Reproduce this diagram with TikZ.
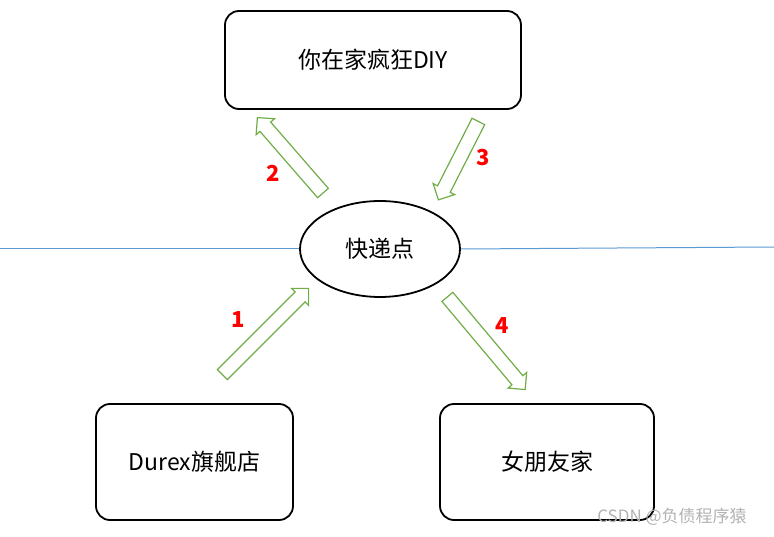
\documentclass[tikz,border=0pt]{standalone}
\usepackage{fontspec}
\setmainfont{Noto Sans CJK SC}
\usetikzlibrary{shapes.geometric,shapes.arrows}
\definecolor{bl}{HTML}{5B9BD5}
\definecolor{gr}{HTML}{70AD47}
\begin{document}
\begin{tikzpicture}[x=1pt,y=-1pt,
  box/.style={draw,line width=1.8pt,rounded corners=14pt,font=\fontsize{23}{26}\selectfont},
  harrow/.style={single arrow,draw=gr,line width=1.2pt,inner xsep=0pt,inner ysep=6.5pt,single arrow head extend=5pt,single arrow head indent=0pt,anchor=center},
  lbl/.style={text=red,font=\bfseries\fontsize{22}{24}\selectfont}]
\useasboundingbox (0,0) rectangle (774,537);
\node[box,minimum width=296pt,minimum height=98pt] (top) at (373,60) {你在家疯狂DIY};
\node[draw,line width=1.8pt,ellipse,minimum width=160pt,minimum height=96pt,font=\fontsize{23}{26}\selectfont] (mid) at (380,249) {快递点};
\node[box,minimum width=197pt,minimum height=116pt] (bl) at (194.5,462) {Durex旗舰店};
\node[box,minimum width=214pt,minimum height=116pt] (br) at (547,462) {女朋友家};
\coordinate (L) at (0,249); \coordinate (R) at (774,247);
\draw[bl,line width=1pt] (L) -- (mid.west);
\draw[bl,line width=1pt] (mid.east) -- (R);
\node[harrow,minimum height=122pt,rotate=45] (a1) at (263,334) {};
\node[harrow,minimum height=100pt,rotate=131] (a2) at (292.5,158) {};
\node[harrow,minimum height=88pt,rotate=-117] (a3) at (460,157.5) {};
\node[harrow,minimum height=121pt,rotate=-50] (a4) at (484,340.5) {};
\node[lbl] (n1) at (238,320) {1};
\node[lbl] (n2) at (273,173) {2};
\node[lbl] (n3) at (483,158) {3};
\node[lbl] (n4) at (502,326) {4};
\node[text=gray!60,font=\fontsize{17}{19}\selectfont] (wm) at (672,517) {CSDN @负债程序猿};
\end{tikzpicture}
\end{document}
